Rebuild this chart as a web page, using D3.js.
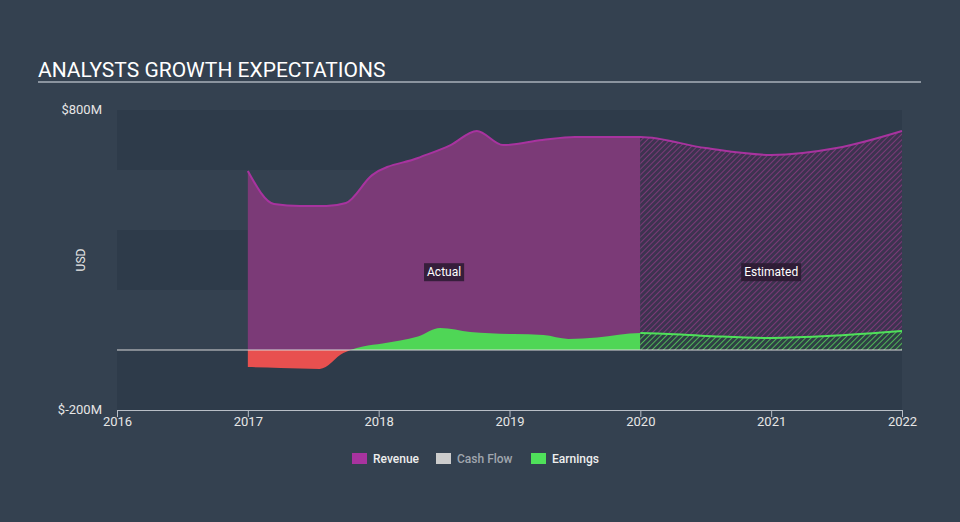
<!DOCTYPE html>
<html>
<head>
<meta charset="utf-8">
<script src="https://cdn.jsdelivr.net/npm/d3@7"></script>
<style>
	body { margin: 0; background: #344150; }
	svg { display: block; font-family: Roboto, "Open Sans", sans-serif; }
</style>
</head>
<body>
<div id="chart"></div>
<script>
// revenue, USD millions
const revenueYears = [2017.0, 2017.2, 2017.4, 2017.6, 2017.75, 2017.95, 2018.3, 2018.55, 2018.75, 2018.95, 2019.25, 2019.5, 2020.0, 2020.5, 2021.0, 2021.5, 2022.0];
const revenueValues = [597, 487, 480, 480, 490, 583, 640, 683, 730, 683, 700, 710, 710, 673, 650, 673, 730];

// earnings, USD millions
const earningsYears = [2017.0, 2017.25, 2017.55, 2017.73, 2017.88, 2018.03, 2018.3, 2018.47, 2018.7, 2019.03, 2019.26, 2019.45, 2019.67, 2020.0, 2020.5, 2021.0, 2021.5, 2022.0];
const earningsValues = [-57, -60, -63, -10, 12, 22, 45, 73, 60, 53, 50, 37, 42, 57, 47, 40, 48, 63];

const yTicks = [800, -200];
const xTicks = [2016, 2017, 2018, 2019, 2020, 2021, 2022];
const splitYear = 2020;

const legendItems = [
	{ name: "Revenue", color: "#a8339f", active: true },
	{ name: "Cash Flow", color: "#cccccc", active: false },
	{ name: "Earnings", color: "#4fe05a", active: true }
];

const width = 960, height = 522;
const margin = { left: 117, right: 58, top: 110, bottom: 112 };

const svg = d3.select("#chart").append("svg")
	.attr("width", width)
	.attr("height", height);

const x = d3.scaleLinear().domain([2016, 2022]).range([margin.left, width - margin.right]);
const y = d3.scaleLinear().domain([-200, 800]).range([height - margin.bottom, margin.top]);

//title
svg.append("text")
	.attr("x", 38).attr("y", 77)
	.attr("fill", "#ffffff")
	.attr("font-size", 21)
	.text("ANALYSTS GROWTH EXPECTATIONS");
svg.append("line")
	.attr("x1", 38).attr("x2", 921).attr("y1", 82).attr("y2", 82)
	.attr("stroke", "#a9b0ba").attr("stroke-width", 1.5);

//background bands
const bands = d3.range(-200, 800, 200);
svg.append("g").selectAll("rect")
	.data(bands)
	.enter().append("rect")
	.attr("x", x(2016))
	.attr("width", x(2022) - x(2016))
	.attr("y", d => y(d + 200))
	.attr("height", d => y(d) - y(d + 200))
	.attr("fill", (d, i) => (i % 2 === 0 ? "#2e3b4a" : "#344150"));

//patterns for estimated part
const defs = svg.append("defs");
function hatch(id, bg, line) {
	const p = defs.append("pattern")
		.attr("id", id)
		.attr("patternUnits", "userSpaceOnUse")
		.attr("width", 4).attr("height", 4)
		.attr("patternTransform", "rotate(45)");
	p.append("rect").attr("width", 4).attr("height", 4).attr("fill", bg);
	p.append("line").attr("x1", 0).attr("y1", 0).attr("x2", 0).attr("y2", 4)
		.attr("stroke", line).attr("stroke-width", 2);
}
hatch("hatch-rev", "#3d3350", "#7b3a77");
hatch("hatch-earn", "#2f3f45", "#4fb557");

defs.append("clipPath").attr("id", "clip-actual")
	.append("rect").attr("x", 0).attr("y", 0).attr("width", x(splitYear)).attr("height", height);
defs.append("clipPath").attr("id", "clip-est")
	.append("rect").attr("x", x(splitYear)).attr("y", 0).attr("width", width).attr("height", height);
defs.append("clipPath").attr("id", "clip-pos")
	.append("rect").attr("x", 0).attr("y", 0).attr("width", width).attr("height", y(0));
defs.append("clipPath").attr("id", "clip-neg")
	.append("rect").attr("x", 0).attr("y", y(0)).attr("width", width).attr("height", height);

const revenue = revenueYears.map((d, i) => ({ year: d, value: revenueValues[i] }));
const earnings = earningsYears.map((d, i) => ({ year: d, value: earningsValues[i] }));

const area = d3.area()
	.x(d => x(d.year))
	.y0(y(0))
	.y1(d => y(d.value))
	.curve(d3.curveMonotoneX);
const line = d3.line()
	.x(d => x(d.year))
	.y(d => y(d.value))
	.curve(d3.curveMonotoneX);

//revenue
svg.append("path").datum(revenue)
	.attr("d", area).attr("fill", "#7b3a77")
	.attr("clip-path", "url(#clip-actual)");
svg.append("path").datum(revenue)
	.attr("d", area).attr("fill", "url(#hatch-rev)")
	.attr("clip-path", "url(#clip-est)");
svg.append("path").datum(revenue)
	.attr("d", line).attr("fill", "none")
	.attr("stroke", "#a8339f").attr("stroke-width", 2);

//earnings
const earnG = svg.append("g");
earnG.append("g").attr("clip-path", "url(#clip-actual)")
	.append("path").datum(earnings)
	.attr("d", area).attr("fill", "#4fd656")
	.attr("clip-path", "url(#clip-pos)");
earnG.append("path").datum(earnings)
	.attr("d", area).attr("fill", "#e8504f")
	.attr("clip-path", "url(#clip-neg)");
earnG.append("path").datum(earnings)
	.attr("d", area).attr("fill", "url(#hatch-earn)")
	.attr("clip-path", "url(#clip-est)");
earnG.append("g").attr("clip-path", "url(#clip-est)")
	.append("path").datum(earnings)
	.attr("d", line).attr("fill", "none")
	.attr("stroke", "#4fe05a").attr("stroke-width", 2);

//zero line
svg.append("line")
	.attr("x1", x(2016)).attr("x2", x(2022))
	.attr("y1", y(0)).attr("y2", y(0))
	.attr("stroke", "#d8d8d8").attr("stroke-width", 1);

//actual / estimated labels
function tag(text, cx) {
	const g = svg.append("g").attr("transform", `translate(${cx},${y(260)})`);
	const t = g.append("text")
		.attr("text-anchor", "middle").attr("dy", "0.35em")
		.attr("fill", "#ffffff").attr("font-size", 12)
		.text(text);
	const b = t.node().getBBox();
	g.insert("rect", "text")
		.attr("x", b.x - 3).attr("y", b.y - 2)
		.attr("width", b.width + 6).attr("height", b.height + 4)
		.attr("fill", "#2a1a30").attr("opacity", 0.85);
}
tag("Actual", x(2018.5));
tag("Estimated", x(2021));

//y labels
svg.append("g").selectAll("text")
	.data(yTicks)
	.enter().append("text")
	.attr("x", 102)
	.attr("y", d => y(d))
	.attr("dy", "0.3em")
	.attr("text-anchor", "end")
	.attr("fill", "#e6e6e6").attr("font-size", 13)
	.text(d => `$${d}M`);

svg.append("text")
	.attr("transform", `translate(85,${y(300)}) rotate(-90)`)
	.attr("text-anchor", "middle")
	.attr("fill", "#e6e6e6").attr("font-size", 12)
	.text("USD");

//x axis
const xAxis = svg.append("g")
	.attr("transform", `translate(0,${y(-200)})`)
	.call(d3.axisBottom(x).tickValues(xTicks).tickFormat(d3.format("d")).tickSizeOuter(0).tickSize(7));
xAxis.select(".domain").attr("stroke", "#b8bec6");
xAxis.selectAll(".tick line").attr("stroke", "#b8bec6");
xAxis.selectAll(".tick text")
	.attr("fill", "#e6e6e6").attr("font-size", 13)
	.attr("font-family", "Roboto, sans-serif")
	.attr("dy", "0.45em");

//legend
const legendX = [352, 436, 531];
const legend = svg.append("g").selectAll("g")
	.data(legendItems)
	.enter().append("g")
	.attr("transform", (d, i) => `translate(${legendX[i]},453)`);
legend.append("rect")
	.attr("width", 15).attr("height", 11)
	.attr("fill", d => d.color);
legend.append("text")
	.attr("x", 21).attr("y", 10)
	.attr("font-size", 12).attr("font-weight", 500)
	.attr("fill", d => (d.active ? "#eeeeee" : "#a0a6ae"))
	.text(d => d.name);
</script>
</body>
</html>
